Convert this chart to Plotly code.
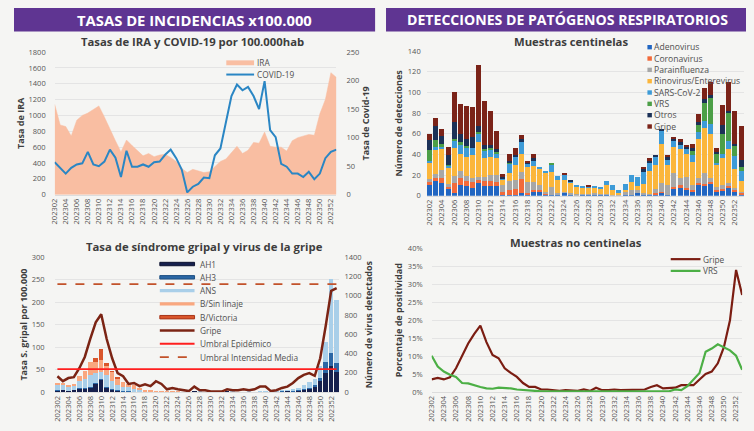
import plotly.graph_objects as go

weeks = [f"2023{w:02d}" for w in range(2, 54)]
tick_weeks = weeks[::2][:26]

# --- Tasas de IRA y COVID-19 ---
ira = [1140, 880, 860, 740, 940, 1000, 1030, 1070, 1120, 980, 820, 680, 540, 690, 620, 560, 490, 520,
       480, 500, 510, 470, 420, 330, 280, 320, 300, 280, 290, 350, 420, 450, 530, 610, 520, 560, 660,
       650, 790, 610, 600, 600, 550, 680, 720, 740, 760, 750, 1020, 1200, 1540, 1480]
covid = [57, 47, 37, 47, 53, 55, 75, 53, 50, 58, 79, 65, 31, 77, 49, 49, 53, 49, 57, 58, 70, 79, 64, 44,
         4, 14, 19, 30, 29, 69, 81, 127, 173, 193, 183, 189, 173, 150, 199, 113, 101, 54, 49, 37, 37, 31,
         40, 27, 37, 64, 75, 79]

# --- Muestras centinelas (detecciones) ---
adenovirus = [10, 14, 12, 6, 3, 10, 9, 7, 12, 9, 9, 9, 1, 1, 1, 3, 1, 4, 4, 1, 1, 1, 3, 1, 0, 1, 1, 1, 1, 1,
              0, 0, 1, 1, 3, 1, 1, 1, 3, 1, 7, 7, 6, 4, 10, 10, 11, 4, 5, 7, 4, 1]
coronavirus = [3, 3, 5, 2, 9, 7, 5, 6, 3, 5, 5, 4, 3, 4, 5, 13, 2, 1, 1, 1, 0, 0, 0, 0, 0, 0, 0, 0, 0, 0,
               0, 0, 0, 0, 0, 0, 0, 2, 1, 0, 1, 3, 1, 1, 2, 1, 2, 1, 1, 2, 1, 2]
parainfluenza = [3, 4, 8, 3, 7, 7, 5, 4, 3, 4, 6, 7, 6, 9, 9, 7, 10, 8, 5, 2, 7, 2, 1, 2, 2, 1, 1, 2, 1, 1,
                 1, 1, 3, 4, 2, 2, 1, 3, 8, 9, 14, 7, 11, 5, 5, 11, 4, 3, 4, 3, 2, 1]
rinovirus = [16, 23, 20, 16, 27, 16, 18, 22, 34, 18, 17, 16, 5, 8, 15, 17, 15, 16, 16, 18, 15, 12, 11, 10,
             7, 6, 6, 4, 5, 8, 4, 2, 1, 8, 4, 8, 22, 24, 38, 20, 25, 28, 22, 23, 38, 44, 43, 22, 26, 33, 19, 10]
sars_cov2 = [2, 3, 2, 2, 7, 9, 10, 7, 8, 8, 8, 5, 2, 9, 7, 12, 3, 5, 1, 2, 7, 4, 5, 1, 1, 1, 1, 2, 1, 4,
             5, 2, 6, 7, 9, 12, 8, 8, 13, 5, 6, 4, 5, 6, 7, 6, 9, 2, 4, 8, 12, 10]
vrs = [10, 7, 3, 1, 2, 3, 1, 0, 2, 1, 1, 1, 0, 1, 0, 0, 0, 0, 0, 0, 2, 0, 0, 0, 0, 0, 0, 0, 0, 0,
       0, 0, 0, 0, 0, 0, 0, 0, 0, 0, 0, 0, 0, 4, 6, 18, 26, 8, 20, 27, 10, 4]
otros = [10, 13, 8, 9, 16, 8, 7, 11, 5, 4, 3, 3, 1, 2, 2, 3, 1, 2, 0, 0, 0, 0, 0, 1, 0, 0, 0, 0, 0, 0,
         0, 0, 0, 0, 0, 3, 2, 1, 2, 2, 2, 3, 2, 3, 3, 4, 2, 2, 8, 2, 2, 7]
gripe_cent = [6, 8, 7, 8, 29, 29, 32, 29, 60, 43, 33, 18, 3, 6, 7, 4, 1, 4, 0, 0, 0, 0, 1, 0, 0, 0, 1, 0, 0, 0,
              0, 0, 0, 0, 0, 2, 2, 0, 0, 2, 1, 3, 2, 4, 8, 10, 13, 4, 20, 28, 32, 32]

# --- Síndrome gripal y virus de la gripe ---
ah1 = [15, 20, 10, 20, 34, 35, 45, 85, 125, 45, 27, 15, 5, 5, 3, 2, 1, 1, 0, 0, 0, 1, 0, 0, 0, 1, 0, 0, 0, 0,
       0, 1, 0, 0, 0, 1, 0, 5, 3, 0, 2, 8, 10, 8, 15, 25, 35, 60, 110, 195, 265, 210]
ah3 = [3, 3, 2, 3, 5, 5, 8, 10, 10, 8, 5, 3, 2, 2, 1, 1, 0, 0, 0, 0, 0, 0, 0, 0, 0, 0, 0, 0, 0, 0,
       0, 0, 0, 0, 0, 0, 0, 0, 0, 0, 0, 1, 1, 2, 3, 5, 8, 15, 35, 120, 135, 90]
ans = [62, 52, 44, 45, 75, 95, 125, 100, 70, 120, 80, 50, 45, 40, 30, 15, 5, 4, 2, 1, 1, 0, 1, 0, 0, 0, 1, 0,
       0, 0, 0, 0, 1, 0, 0, 1, 0, 3, 2, 1, 2, 3, 5, 15, 27, 40, 57, 65, 125, 205, 770, 660]
b_sin_linaje = [10, 10, 14, 20, 50, 80, 135, 120, 130, 100, 95, 75, 48, 40, 34, 26, 14, 15, 5, 3, 2, 1, 1, 0,
                0, 0, 0, 0, 0, 0, 0, 0, 0, 0, 0, 0, 0, 0, 0, 0, 0, 0, 0, 0, 0, 0, 0, 0, 0, 0, 0, 0]
b_victoria = [0, 0, 0, 0, 0, 0, 0, 35, 115, 25, 5, 2, 0, 0, 0, 0, 0, 0, 0, 0, 0, 0, 0, 0, 0, 0, 0, 0, 0, 0,
              0, 0, 0, 0, 0, 0, 0, 0, 0, 0, 0, 0, 0, 0, 0, 0, 0, 0, 0, 0, 0, 0]
tasa_gripe = [35, 24, 31, 33, 53, 78, 118, 155, 173, 118, 75, 42, 35, 18, 20, 13, 17, 13, 24, 18, 6, 9, 6, 4,
              2, 12, 4, 4, 1, 1, 1, 6, 4, 4, 6, 4, 6, 12, 12, 2, 4, 9, 12, 20, 31, 38, 42, 36, 75, 147, 225, 231]
umbral_epidemico = [51] * 52
umbral_media = [240] * 52

# --- Muestras no centinelas (positividad) ---
pos_gripe = [3.5, 3.9, 3.5, 4.1, 6.6, 10.3, 13.5, 16.2, 18.5, 13.9, 10.3, 9.4, 6.6, 5.3, 4.2, 2.5, 1.4, 1.4,
             0.7, 0.7, 0.5, 0.3, 0.5, 0.3, 0.3, 0.7, 0.3, 1.2, 0.5, 0.5, 0.7, 0.5, 0.5, 0.7, 0.7, 0.7, 1.4,
             1.9, 1.0, 1.2, 1.2, 1.9, 1.9, 1.9, 3.5, 5.0, 5.7, 8.0, 12.5, 20.0, 34.0, 27.0]
pos_vrs = [10.1, 7.1, 5.7, 4.8, 4.2, 2.5, 2.4, 1.8, 1.4, 1.0, 0.9, 1.2, 1.2, 1.0, 0.7, 0.5, 0.5, 0.3, 0.2,
           0.2, 0.2, 0.2, 0.2, 0.2, 0.2, 0.2, 0.2, 0.2, 0.2, 0.2, 0.2, 0.2, 0.2, 0.2, 0.2, 0.2, 0.2, 0.2,
           0.2, 0.2, 0.7, 0.5, 1.6, 3.5, 5.3, 11.2, 12.1, 13.3, 12.5, 11.6, 10.1, 6.2]

FONT = "Open Sans"
TXT = "#3d3d3d"
LEGTXT = "#505050"
BG = "#f5f5f3"
W, H = 754, 431
OFF = 8  # page body margin offset of the figure in the browser window

# colours
C_IRA, C_COVID = "#f9bea2", "#2a86c4"
bl_series = [("AH1", ah1, "#16204d"), ("AH3", ah3, "#2b67a5"), ("ANS", ans, "#a9cfe9"),
             ("B/Sin linaje", b_sin_linaje, "#f9a77f"), ("B/Victoria", b_victoria, "#d9552b")]
bl_lines = [("Gripe", tasa_gripe, "#7b2414", 2.5, "solid"),
            ("Umbral Epidémico", umbral_epidemico, "#ff1f1f", 1.8, "solid"),
            ("Umbral Intensidad Media", umbral_media, "#c2522a", 1.8, "dash")]
tr_series = [("Adenovirus", adenovirus, "#2166c2"), ("Coronavirus", coronavirus, "#f26a3a"),
             ("Parainfluenza", parainfluenza, "#a7a7a7"), ("Rinovirus/Enterevirus", rinovirus, "#fbb63b"),
             ("SARS-CoV-2", sars_cov2, "#3d9bd7"), ("VRS", vrs, "#4c9f47"), ("Otros", otros, "#1b3157"),
             ("Gripe", gripe_cent, "#7b2318")]
br_lines = [("Gripe", pos_gripe, "#7b1d12"), ("VRS", pos_vrs, "#4caf45")]


def px(x):
    return (x - OFF) / W


def py(y):
    return 1 - (y - OFF) / H


fig = go.Figure()

# Top-left
fig.add_trace(go.Scatter(x=weeks, y=ira, name="IRA", fill="tozeroy", mode="lines",
                         line=dict(color=C_IRA, width=0.5), fillcolor=C_IRA, xaxis="x", yaxis="y"))
fig.add_trace(go.Scatter(x=weeks, y=covid, name="COVID-19", mode="lines",
                         line=dict(color=C_COVID, width=2), xaxis="x", yaxis="y2"))

# Bottom-left bars (right axis) + lines (left axis overlay)
for name, vals, col in bl_series:
    fig.add_trace(go.Bar(x=weeks, y=vals, name=name, marker=dict(color=col, line=dict(width=0)),
                         xaxis="x2", yaxis="y3", offsetgroup="bl"))
for name, vals, col, wd, dash in bl_lines:
    fig.add_trace(go.Scatter(x=weeks, y=vals, name=name, mode="lines",
                             line=dict(color=col, width=wd, dash=dash), xaxis="x2", yaxis="y4"))

# Top-right stacked bars
for name, vals, col in tr_series:
    fig.add_trace(go.Bar(x=weeks, y=vals, name=name, marker=dict(color=col, line=dict(width=0)),
                         xaxis="x3", yaxis="y5", offsetgroup="tr"))

# Bottom-right lines
for name, vals, col in br_lines:
    fig.add_trace(go.Scatter(x=weeks, y=[v / 100 for v in vals], name=name, mode="lines",
                             line=dict(color=col, width=2.2), xaxis="x4", yaxis="y6"))

tickfont = dict(family=FONT, size=7.5, color="#555555")
titlefont = dict(family=FONT, size=9, color=TXT, weight="bold")


def xax(domain, anchor, rng):
    return dict(domain=domain, anchor=anchor, type="category", tickvals=tick_weeks, ticktext=tick_weeks,
                tickangle=-90, tickfont=tickfont, showgrid=False, showline=True, linecolor="#dcdcdc",
                linewidth=1, ticks="", range=rng, fixedrange=True)


def yax(domain, anchor, rng, dtick, title, side="left", grid=True, standoff=3, lstand=2, fmt=None):
    d = dict(domain=domain, anchor=anchor, range=rng, dtick=dtick, side=side, tickfont=tickfont,
             showgrid=grid, gridcolor="#e4e4e4", gridwidth=1, zeroline=False, showline=False,
             title=dict(text=title, font=titlefont, standoff=standoff), ticks="",
             ticklabelstandoff=lstand)
    if fmt:
        d["tickformat"] = fmt
    return d


fig.update_layout(
    width=W, height=H, margin=dict(l=0, r=0, t=0, b=0),
    paper_bgcolor=BG, plot_bgcolor="rgba(0,0,0,0)",
    barmode="stack", bargap=0.18, showlegend=False,
    font=dict(family=FONT, color=TXT),
    xaxis=xax([px(49), px(333)], "y", [0, 51]),
    yaxis=yax([py(194), py(48)], "x", [0, 1800], 200, "Tasa de IRA", lstand=8, standoff=2),
    yaxis2=yax([py(194), py(48)], "x", [0, 250], 50, "Tasa de Covid-19", side="right", grid=False,
               lstand=9, standoff=4),
    xaxis2=xax([px(49), px(336)], "y3", [-0.5, 51.5]),
    yaxis3=yax([py(396), py(258)], "x2", [0, 1400], 200, "Número de virus detectados", side="right",
               grid=False, lstand=4, standoff=2),
    yaxis4=yax([py(396), py(258)], "x2", [0, 300], 50, "Tasa S. gripal por 100.000", side="left",
               lstand=9, standoff=2),
    xaxis3=xax([px(424), px(744)], "y5", [-0.5, 51.5]),
    yaxis5=yax([py(195), py(47)], "x3", [0, 140], 20, "Número de detecciones", lstand=5, standoff=3),
    xaxis4=xax([px(429), px(742)], "y6", [0, 51]),
    yaxis6=yax([py(396), py(249)], "x4", [0, 0.4], 0.05, "Porcentaje de positividad", fmt=".0%",
               lstand=8, standoff=3),
)
fig.layout.yaxis4.overlaying = "y3"
fig.layout.yaxis2.overlaying = "y"

# Headers
purple = "#5f3592"
for x0, x1 in [(8, 372), (383, 750)]:
    fig.add_shape(type="rect", xref="paper", yref="paper", x0=px(x0), x1=px(x1), y0=py(27), y1=py(2),
                  fillcolor=purple, line=dict(width=0), layer="below")

annots = [
    ("TASAS DE INCIDENCIAS x100.000", 190, 15, 14.8, "white"),
    ("DETECCIONES DE PATÓGENOS RESPIRATORIOS", 566, 15, 14.1, "white"),
    ("Tasas de IRA y COVID-19 por 100.000hab", 188, 37, 11.3, TXT),
    ("Muestras centinelas", 569, 37, 11.3, TXT),
    ("Tasa de síndrome gripal y virus de la gripe", 200, 247, 11.3, TXT),
    ("Muestras no centinelas", 575, 243, 11.3, TXT),
]
for text, x, y, size, col in annots:
    fig.add_annotation(text=f"<b>{text}</b>", x=px(x), y=py(y), xref="paper", yref="paper",
                       showarrow=False, font=dict(family=FONT, size=size, color=col),
                       xanchor="center", yanchor="middle")


# ---- Legends (drawn as keys in paper space) ----
def leg_text(text, x, y, size=8.3):
    fig.add_annotation(text=text, x=px(x), y=py(y), xref="paper", yref="paper", showarrow=False,
                       font=dict(family=FONT, size=size, color=LEGTXT), xanchor="left", yanchor="middle")


def leg_rect(x0, x1, y, h, col, outline=None):
    fig.add_shape(type="rect", xref="paper", yref="paper", x0=px(x0), x1=px(x1), y0=py(y + h / 2),
                  y1=py(y - h / 2), fillcolor=col,
                  line=dict(width=1 if outline else 0, color=outline or col))


def leg_line(x0, x1, y, col, wd, dash="solid"):
    fig.add_shape(type="line", xref="paper", yref="paper", x0=px(x0), x1=px(x1), y0=py(y), y1=py(y),
                  line=dict(color=col, width=wd, dash=dash))


# top-left
leg_rect(222, 250, 59, 5, C_IRA)
leg_text("IRA", 251, 59)
leg_line(222, 250, 71, C_COVID, 2)
leg_text("COVID-19", 251, 71)

# top-right
for i, (name, _, col) in enumerate(tr_series):
    yy = 43 + i * 11.6
    leg_rect(646.5, 651, yy, 4.5, col)
    leg_text(name, 651, yy, 8.6)

# bottom-left
bl_outline = {"AH1": "#0d1230", "AH3": "#1d4f82", "B/Victoria": "#a8361a"}
for i, (name, _, col) in enumerate(bl_series):
    yy = 265 + i * 13.6
    leg_rect(155, 190, yy, 3.5, col, bl_outline.get(name))
    leg_text(name, 193, yy, 8.3)
for j, (name, _, col, wd, dash) in enumerate(bl_lines):
    yy = 265 + (j + 5) * 13.6
    leg_line(155, 190, yy, col, wd, dash)
    leg_text(name, 193, yy, 8.3)

# bottom-right
for i, (name, _, col) in enumerate(br_lines):
    yy = 260 + i * 12
    leg_line(670, 700, yy, col, 2.2)
    leg_text(name, 701, yy, 8.3)

fig.write_html("out.html", post_script=f"document.body.style.backgroundColor='{BG}';")
